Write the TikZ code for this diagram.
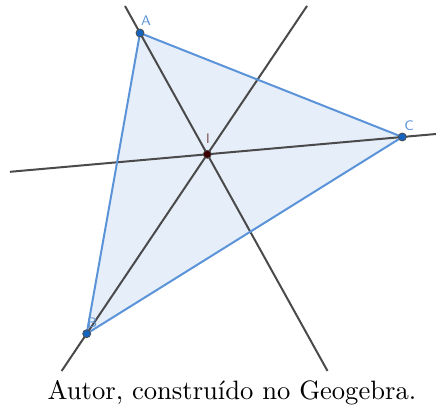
\documentclass[tikz,border=0pt]{standalone}
\usepackage{tikz}
\usetikzlibrary{calc}
\definecolor{azulLado}{HTML}{5B93D9}
\definecolor{azulFundo}{HTML}{E6EEF9}
\definecolor{azulPonto}{HTML}{1565C0}
\definecolor{cinzaReta}{HTML}{4A4A4A}
\definecolor{marromI}{HTML}{3D0000}

\begin{document}
\begin{tikzpicture}[
        x=0.376pt, y=-0.376pt,
        pt/.style={circle, fill=azulPonto, draw=black!70, line width=0.3pt, inner sep=0pt, minimum size=3pt},
        rot/.style={font=\sffamily\fontsize{5.2}{6}\selectfont, text=azulLado, inner sep=0pt},
        reta/.style={cinzaReta, line width=0.75pt},
        lado/.style={azulLado, line width=0.75pt}
    ]
        \useasboundingbox (0,0) rectangle (436,409);
        \coordinate (A) at (140,33);
        \coordinate (B) at (86.7,333.7);
        \coordinate (C) at (402.3,137);
        \coordinate (I) at (207.3,154.3);
        % extremos das bissetrizes
        \coordinate (a1) at ($(A)!-0.2226!(I)$);
        \coordinate (a2) at ($(A)!2.786!(I)$);
        \coordinate (b1) at ($(B)!-0.208!(I)$);
        \coordinate (b2) at ($(B)!1.827!(I)$);
        \coordinate (c1) at ($(C)!-0.173!(I)$);
        \coordinate (c2) at ($(C)!2.012!(I)$);
        \fill[azulFundo] (A)--(B)--(C)--cycle;
        \draw[reta] (a1)--(a2); \draw[reta] (b1)--(b2); \draw[reta] (c1)--(c2);
        \draw[lado] (A)--(B)--(C)--cycle;
        \node[pt] (pA) at (A) {}; \node[pt] (pB) at (B) {}; \node[pt] (pC) at (C) {};
        \node[pt, fill=marromI] (pI) at (I) {};
        \node[rot] (lA) at (146,21) {A};
        \node[rot] (lB) at (92.3,322.7) {B};
        \node[rot] (lC) at (409,126) {C};
        \node[rot, text=marromI!60!white] (lI) at (208,139) {I};
        \node[anchor=base, inner sep=0pt] (leg) at (232,400) {Autor, construído no Geogebra.};
    \end{tikzpicture}
\end{document}
